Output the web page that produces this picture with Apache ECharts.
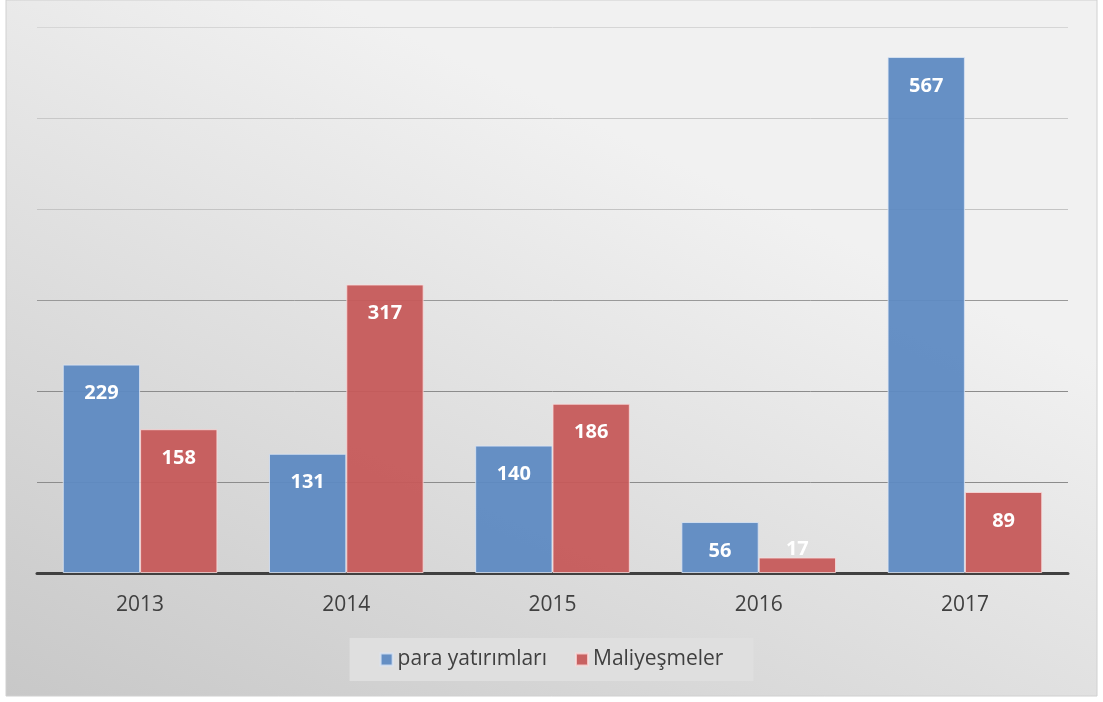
<!DOCTYPE html>
<html><head><meta charset="utf-8">
<script src="https://cdn.jsdelivr.net/npm/echarts@6/dist/echarts.min.js"></script>
<style>html,body{margin:0;padding:0;background:#fff}#c{width:1103px;height:702px}</style>
</head><body><div id="c"></div>
<script>
const categories = ['2013', '2014', '2015', '2016', '2017'];
const seriesNames = ['para yatırımları', 'Maliyeşmeler'];
const paraValues = [229, 131, 140, 56, 567];
const maliValues = [158, 317, 186, 17, 89];

const chart = echarts.init(document.getElementById('c'));
function mk(vals) {
  return vals.map(v => v < 30 ? { value: v, label: { position: 'insideBottom', distance: 14 } } : v);
}
const lbl = { show: true, position: 'insideTop', distance: 19, color: '#ffffff', fontSize: 20, fontWeight: 'bold', fontFamily: 'Open Sans' };
chart.setOption({
  animation: false,
  graphic: [{
    type: 'rect', z: -10, silent: true,
    shape: { x: 6, y: 0, width: 1091, height: 696 },
    style: {
      fill: new echarts.graphic.LinearGradient(0.3, 0, 0, 1, [
        { offset: 0, color: '#f1f1f1' },
        { offset: 1, color: '#c8c8c8' }
      ]),
      stroke: '#d0d0d0', lineWidth: 1
    }
  }],
  grid: { left: 37, right: 35, top: 27, bottom: 129 },
  legend: {
    bottom: 21, left: 'center',
    itemWidth: 12, itemHeight: 12, itemGap: 28,
    padding: [11, 30, 11, 30],
    backgroundColor: '#dfdfdf',
    textStyle: { fontSize: 21, color: '#404040', fontFamily: 'Open Sans' },
    icon: 'rect'
  },
  xAxis: {
    type: 'category', data: categories,
    axisLine: { lineStyle: { color: '#404040', width: 3 } },
    axisTick: { show: false },
    axisLabel: { fontSize: 21, color: '#404040', margin: 22, fontFamily: 'Open Sans' }
  },
  yAxis: {
    type: 'value', min: 0, max: 600, interval: 100,
    axisLabel: { show: false }, axisLine: { show: false }, axisTick: { show: false },
    splitLine: { lineStyle: { color: ['#8c8c8c', '#8c8c8c', '#8c8c8c', '#999999', '#c4c4c4', '#c8c8c8', '#d6d6d6'], width: 1 } }
  },
  series: [
    { name: seriesNames[0], type: 'bar', data: mk(paraValues), barGap: '0%', barCategoryGap: '25%',
      itemStyle: { color: 'rgba(94,138,194,0.95)', borderColor: 'rgba(220,230,245,0.8)', borderWidth: 1 }, label: lbl },
    { name: seriesNames[1], type: 'bar', data: mk(maliValues),
      itemStyle: { color: 'rgba(198,90,90,0.95)', borderColor: 'rgba(250,220,220,0.8)', borderWidth: 1 }, label: lbl }
  ]
});
</script></body></html>
